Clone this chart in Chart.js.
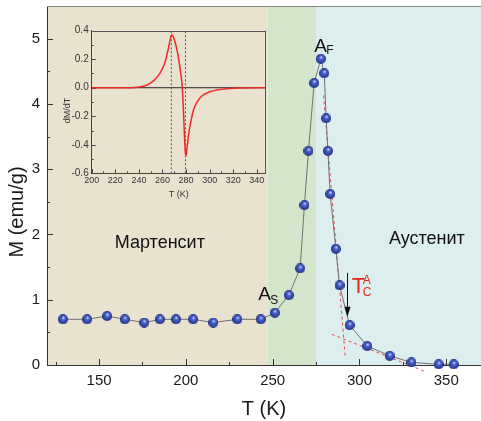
<!DOCTYPE html>
<html><head><meta charset="utf-8">
<script src="https://cdn.jsdelivr.net/npm/chart.js@4/dist/chart.umd.min.js"></script>
<style>
html,body{margin:0;padding:0;background:#fff;}
#wrap{position:relative;width:481px;height:421px;overflow:hidden;}
#main{position:absolute;left:0;top:0;}
#inset{position:absolute;left:55px;top:22px;}
</style></head><body>
<div id="wrap"><canvas id="main" width="481" height="421"></canvas><canvas id="inset" width="220" height="182"></canvas></div>
<script>
// ---- data ----
const temperatureK = [129.2,143.1,154.6,164.8,176.0,185.0,194.3,204.2,215.8,229.6,243.1,251.2,259.3,265.8,268.3,270.6,273.9,277.7,279.7,280.8,281.8,283.1,286.4,288.5,294.3,304.5,317.4,329.9,345.6,354.3];
const magnetization = [0.70,0.70,0.75,0.70,0.65,0.70,0.70,0.70,0.65,0.70,0.70,0.80,1.07,1.48,2.45,3.28,4.32,4.69,4.47,3.78,3.28,2.62,1.78,1.22,0.61,0.29,0.14,0.04,0.01,0.01];
const steepTangentT = [279.3, 291.8];
const steepTangentM = [4.13, 0.13];
const shallowTangentT = [284.1, 337.9];
const shallowTangentM = [0.47, -0.10];
const phaseEdges = [120, 247, 275, 370];
const mainXTicks = [150, 200, 250, 300, 350];
const mainXMinor = [125, 175, 225, 275, 325];
const mainYTicks = [0, 1, 2, 3, 4, 5];
const mainYMinor = [0.5, 1.5, 2.5, 3.5, 4.5];
const insetT = [200,234,243.8,249.5,255,259.4,262.2,265,267.3,268.2,270.1,272.7,274.9,276.4,277.2,278.3,279.2,279.8,280.6,282,284,286.3,289.6,293.3,299,306,314.5,325.8,347.5];
const insetDMdT = [0,0,0.01,0.03,0.07,0.124,0.18,0.276,0.363,0.37,0.335,0.25,0.136,0.04,-0.06,-0.27,-0.436,-0.48,-0.436,-0.34,-0.24,-0.156,-0.098,-0.058,-0.032,-0.016,-0.007,-0.002,0];
const insetMarkers = [267.5, 279.5];
const insetXTicks = [200,220,240,260,280,300,320,340];
const insetXMinor = [210,230,250,270,290,310,330];
const insetYTicks = [-0.6,-0.4,-0.2,0,0.2,0.4];
const insetYMinor = [-0.5,-0.3,-0.1,0.1,0.3];
// label anchors in data units
const labelMartensite = {t:185, m:1.80, text:'Мартенсит'};
const labelAustenite = {t:338.8, m:1.85, text:'Аустенит'};
const labelAF = {t:273.9, m:4.80};
const labelAS = {t:241.7, m:1.00};
const labelTC = {t:295.6, m:1.10};
const arrowTC = {t:292.9, m0:1.41, m1:0.74};

const FONT = "'Liberation Sans', Arial, sans-serif";
Chart.defaults.font.family = FONT;
Chart.defaults.color = '#1a1a1a';
const phaseColors = ['#e9e2cf', '#d3e5cb', '#dceeed'];

function sphere(d){
  const c=document.createElement('canvas'); c.width=c.height=d;
  const g=c.getContext('2d'); const r=d/2;
  const grd=g.createRadialGradient(r*1.1,r*0.65,r*0.05,r,r,r);
  grd.addColorStop(0,'#d4dcff'); grd.addColorStop(0.3,'#5068cc'); grd.addColorStop(0.75,'#2f44a6'); grd.addColorStop(1,'#1a2670');
  g.fillStyle=grd; g.beginPath(); g.arc(r,r,r,0,Math.PI*2); g.fill();
  return c;
}
const ball = sphere(10);

function tickSet(ctx, scale, area, values, len, horiz){
  ctx.beginPath();
  for (const v of values){
    const p = Math.round(scale.getPixelForValue(v))+0.5;
    if (horiz){ ctx.moveTo(p, area.bottom); ctx.lineTo(p, area.bottom-len); }
    else { ctx.moveTo(area.left, p); ctx.lineTo(area.left+len, p); }
  }
  ctx.stroke();
}
function noPad(s){ s.paddingTop=0; s.paddingBottom=0; s.paddingLeft=0; s.paddingRight=0; }

const mainDecor = {
  id:'mainDecor',
  beforeDraw(chart){
    const {ctx, chartArea:a, scales:{x}} = chart;
    ctx.save();
    ctx.fillStyle='#fff'; ctx.fillRect(0,0,chart.width,chart.height);
    for (let i=0;i<phaseColors.length;i++){
      const x0=x.getPixelForValue(phaseEdges[i]), x1=x.getPixelForValue(phaseEdges[i+1]);
      ctx.fillStyle=phaseColors[i]; ctx.fillRect(x0,a.top,x1-x0,a.bottom-a.top);
    }
    ctx.restore();
  },
  beforeDatasetsDraw(chart){
    const {ctx, chartArea:a, scales:{x,y}} = chart;
    ctx.save(); ctx.strokeStyle='#333'; ctx.lineWidth=1;
    tickSet(ctx,x,a,mainXTicks,6,true); tickSet(ctx,x,a,mainXMinor,3,true);
    tickSet(ctx,y,a,mainYTicks,6,false); tickSet(ctx,y,a,mainYMinor,3,false);
    ctx.strokeStyle='#888';
    ctx.beginPath(); ctx.moveTo(a.left, Math.round(a.top)+0.5); ctx.lineTo(a.right, Math.round(a.top)+0.5); ctx.stroke();
    ctx.restore();
  },
  afterDraw(chart){
    const {ctx, scales:{x,y}} = chart;
    const X=v=>x.getPixelForValue(v), Y=v=>y.getPixelForValue(v);
    ctx.save();
    ctx.fillStyle='#111'; ctx.textBaseline='alphabetic';
    ctx.font='18px '+FONT; ctx.textAlign='center';
    ctx.fillText(labelMartensite.text, X(labelMartensite.t), Y(labelMartensite.m));
    ctx.fillText(labelAustenite.text, X(labelAustenite.t), Y(labelAustenite.m));
    ctx.textAlign='left';
    ctx.font='19px '+FONT; ctx.fillText('A', X(labelAF.t), Y(labelAF.m));
    ctx.font='12px '+FONT; ctx.fillText('F', X(labelAF.t)+12, Y(labelAF.m)+2);
    ctx.font='19px '+FONT; ctx.fillText('A', X(labelAS.t), Y(labelAS.m));
    ctx.font='12px '+FONT; ctx.fillText('S', X(labelAS.t)+12, Y(labelAS.m)+4);
    ctx.fillStyle='#e8261e';
    ctx.font='22px '+FONT; ctx.fillText('T', X(labelTC.t), Y(labelTC.m));
    ctx.font='12px '+FONT; ctx.fillText('A', X(labelTC.t)+11, Y(labelTC.m)-9.5);
    ctx.fillText('C', X(labelTC.t)+11, Y(labelTC.m)+2.5);
    // arrow
    const ax=Math.round(X(arrowTC.t))+0.5, ay0=Y(arrowTC.m0), ay1=Y(arrowTC.m1);
    ctx.strokeStyle='#111'; ctx.fillStyle='#111'; ctx.lineWidth=1;
    ctx.beginPath(); ctx.moveTo(ax, ay0); ctx.lineTo(ax, ay1-8); ctx.stroke();
    ctx.beginPath(); ctx.moveTo(ax-3, ay1-10); ctx.lineTo(ax+3, ay1-10); ctx.lineTo(ax, ay1); ctx.closePath(); ctx.fill();
    // y title
    ctx.fillStyle='#1a1a1a'; ctx.font='20px '+FONT; ctx.textAlign='center'; ctx.textBaseline='middle';
    ctx.translate(17, 212); ctx.rotate(-Math.PI/2); ctx.fillText('M (emu/g)', 0, 0);
    ctx.restore();
  }
};

const pts = (xs, ys) => xs.map((v,i)=>({x:v, y:ys[i]}));

new Chart(document.getElementById('main'), {
  type:'line',
  data:{ datasets:[
    {data:pts(steepTangentT, steepTangentM), borderColor:'#f0474a', borderWidth:1, borderDash:[3,3], pointRadius:0, clip:false, order:3},
    {data:pts(shallowTangentT, shallowTangentM), borderColor:'#f0474a', borderWidth:1, borderDash:[3,3], pointRadius:0, clip:false, order:2},
    {data:pts(temperatureK, magnetization), borderColor:'#6e726e', borderWidth:1, pointStyle:ball, pointRadius:5, clip:false, order:1}
  ]},
  options:{
    responsive:false, devicePixelRatio:1, animation:false, events:[],
    layout:{autoPadding:false, padding:{top:6,right:0,left:0,bottom:0}},
    plugins:{legend:{display:false}, tooltip:{enabled:false}},
    scales:{
      x:{type:'linear', min:120, max:370,
        grid:{display:false, drawTicks:false}, border:{display:true, color:'#333', width:1},
        ticks:{font:{size:15}, color:'#1a1a1a', padding:7, maxRotation:0, autoSkip:false, callback:v=>String(v)},
        afterBuildTicks:s=>{s.ticks=mainXTicks.map(v=>({value:v}));},
        afterFit:s=>{s.height=56; noPad(s);},
        title:{display:true, text:'T (K)', font:{size:20}, color:'#1a1a1a', padding:{top:0,bottom:0}}},
      y:{type:'linear', min:0, max:5.5,
        grid:{display:false, drawTicks:false}, border:{display:true, color:'#333', width:1},
        ticks:{font:{size:15}, color:'#1a1a1a', padding:7, autoSkip:false, callback:v=>String(v)},
        afterBuildTicks:s=>{s.ticks=mainYTicks.map(v=>({value:v}));},
        afterFit:s=>{s.width=47; noPad(s);}}
    }
  },
  plugins:[mainDecor]
});

const insetDecor = {
  id:'insetDecor',
  beforeDatasetsDraw(chart){
    const {ctx, chartArea:a, scales:{x,y}} = chart;
    ctx.save(); ctx.strokeStyle='#444'; ctx.lineWidth=1;
    tickSet(ctx,x,a,insetXTicks,4,true); tickSet(ctx,x,a,insetXMinor,2,true);
    tickSet(ctx,y,a,insetYTicks,4,false); tickSet(ctx,y,a,insetYMinor,2,false);
    ctx.strokeStyle='#555';
    ctx.beginPath();
    ctx.moveTo(a.left, Math.round(a.top)+0.5); ctx.lineTo(a.right, Math.round(a.top)+0.5);
    ctx.moveTo(Math.round(a.right)-0.5, a.top); ctx.lineTo(Math.round(a.right)-0.5, a.bottom);
    ctx.stroke();
    ctx.restore();
  },
  afterDraw(chart){
    const {ctx} = chart;
    ctx.save(); ctx.fillStyle='#333'; ctx.font='9px '+FONT; ctx.textAlign='center'; ctx.textBaseline='middle';
    ctx.translate(12.3, 88.5); ctx.rotate(-Math.PI/2); ctx.fillText('dM/dT',0,0);
    ctx.restore();
  }
};

new Chart(document.getElementById('inset'), {
  type:'line',
  data:{ datasets:[
    {data:[{x:200,y:0},{x:347.5,y:0}], borderColor:'#222', borderWidth:1, pointRadius:0, order:4},
    {data:[{x:insetMarkers[0],y:-0.6},{x:insetMarkers[0],y:0.4}], borderColor:'#555', borderWidth:1, borderDash:[2,2], pointRadius:0, order:3},
    {data:[{x:insetMarkers[1],y:-0.6},{x:insetMarkers[1],y:0.4}], borderColor:'#555', borderWidth:1, borderDash:[2,2], pointRadius:0, order:2},
    {data:pts(insetT, insetDMdT), borderColor:'#ee2a24', borderWidth:1.5, pointRadius:0, cubicInterpolationMode:'monotone', order:1}
  ]},
  options:{
    responsive:false, devicePixelRatio:1, animation:false, events:[],
    layout:{autoPadding:false, padding:{top:8.7,right:9.3,left:0,bottom:0}},
    plugins:{legend:{display:false}, tooltip:{enabled:false}},
    scales:{
      x:{type:'linear', min:200, max:347.5,
        grid:{display:false, drawTicks:false}, border:{display:true, color:'#444', width:1},
        ticks:{font:{size:9}, color:'#333', padding:2, maxRotation:0, autoSkip:false, callback:v=>String(v)},
        afterBuildTicks:s=>{s.ticks=insetXTicks.map(v=>({value:v}));},
        afterFit:s=>{s.height=30.7; noPad(s);},
        title:{display:true, text:'T (K)', font:{size:9}, color:'#333', padding:{top:0,bottom:3.6}}},
      y:{type:'linear', min:-0.6, max:0.4,
        grid:{display:false, drawTicks:false}, border:{display:true, color:'#444', width:1},
        ticks:{font:{size:10}, color:'#333', padding:3, autoSkip:false, callback:v=>Number(v).toFixed(1)},
        afterBuildTicks:s=>{s.ticks=insetYTicks.map(v=>({value:v}));},
        afterFit:s=>{s.width=36.7; noPad(s);}}
    }
  },
  plugins:[insetDecor]
});
</script>
</body></html>
